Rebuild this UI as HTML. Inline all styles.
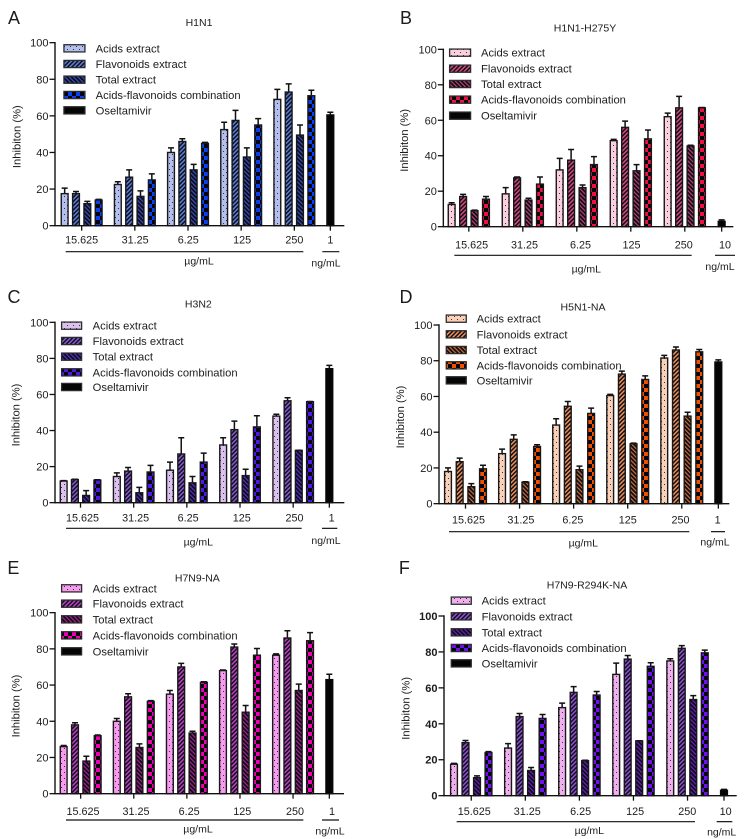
<!DOCTYPE html>
<html lang="en">
<head>
<meta charset="utf-8">
<title>Inhibition charts</title>
<style>
html,body{margin:0;padding:0;background:#fff;}
svg{display:block;filter:blur(0.35px);}
text{font-family:"Liberation Sans",Arial,sans-serif;fill:#1c1c1c;}
</style>
</head>
<body>
<svg id="figure" xmlns="http://www.w3.org/2000/svg" width="751" height="839" viewBox="0 0 751 839"><defs id="defs"></defs></svg>
<script>
const doseLabels = ["15.625","31.25","6.25","125","250"];
const seriesNames = ["Acids extract","Flavonoids extract","Total extract","Acids-flavonoids combination","Oseltamivir"];
const yTicks = [0,20,40,60,80,100];

const h1n1Acids = [17.5,22.5,40,52.5,69];
const h1n1AcidsErr = [3,1.5,2.5,4,5.5];
const h1n1Flav = [17.5,26.5,46,57.5,73];
const h1n1FlavErr = [1.2,4,1.5,5.5,4.5];
const h1n1Total = [12,16,30.5,37.5,49.5];
const h1n1TotalErr = [1.3,3,3,5,5.5];
const h1n1Combo = [14,25,45,55,71];
const h1n1ComboErr = [0.4,3.3,0.5,3.5,3];
const h1n1Ose = [60.5];
const h1n1OseErr = [1.5];

const h275yAcids = [12.5,18.5,32,48.5,62];
const h275yAcidsErr = [1,3.5,6.5,0.7,2];
const h275yFlav = [17,27.5,37.5,56,67];
const h275yFlavErr = [1.2,0.5,6,3.5,6.5];
const h275yTotal = [9,15,22,31.5,45.5];
const h275yTotalErr = [0.3,1,1.5,3.5,0.4];
const h275yCombo = [15.5,24,35,49.5,67];
const h275yComboErr = [1.5,4,4.5,5,0.2];
const h275yOse = [3];
const h275yOseErr = [0.8];

const h3n2Acids = [12,14.5,18,32,48];
const h3n2AcidsErr = [0.2,2,4.5,4,1];
const h3n2Flav = [12.8,17.5,27,40.5,56.5];
const h3n2FlavErr = [0.2,2,9,4.7,1.7];
const h3n2Total = [4,5.5,11,15,29];
const h3n2TotalErr = [2.7,3,3.5,3.5,0.1];
const h3n2Combo = [12.5,17,22.5,42,56];
const h3n2ComboErr = [0.2,3.7,5,6.2,0.1];
const h3n2Ose = [74.3];
const h3n2OseErr = [1.8];

const h5n1Acids = [18,28,44,60.5,81.5];
const h5n1AcidsErr = [2,2.5,3.5,0.7,1.5];
const h5n1Flav = [23.5,36,54.5,72.5,86];
const h5n1FlavErr = [2,2.5,2.7,1.7,1.7];
const h5n1Total = [9.5,12,19,33.5,49];
const h5n1TotalErr = [1.7,0.3,2,0.4,2.2];
const h5n1Combo = [19.5,32,50.5,69.5,85];
const h5n1ComboErr = [2,1,3,2,1.3];
const h5n1Ose = [79.3];
const h5n1OseErr = [1.2];

const h7n9Acids = [26,40,55,68,76.5];
const h7n9AcidsErr = [0.6,1.5,2,0.3,0.7];
const h7n9Flav = [38,53.5,70,81,86];
const h7n9FlavErr = [1.2,1.7,2,1.7,4];
const h7n9Total = [18,25.5,33.5,45,57];
const h7n9TotalErr = [2.7,2,1,3.7,3.5];
const h7n9Combo = [32,51,61.5,76.5,84.5];
const h7n9ComboErr = [0.4,0.4,0.3,3.7,4.5];
const h7n9Ose = [63];
const h7n9OseErr = [3];

const r294kAcids = [17.5,26.5,49,67.5,75];
const r294kAcidsErr = [0.5,2.5,2.5,6.3,1.2];
const r294kFlav = [29.5,44,57.5,76,82];
const r294kFlavErr = [1.2,1.7,3.2,2,1.5];
const r294kTotal = [10,14,19.5,30.5,53.5];
const r294kTotalErr = [1,1.7,0.2,0.1,2.2];
const r294kCombo = [24,43,56,72,79.5];
const r294kComboErr = [0.5,2.2,2,2,1.5];
const r294kOse = [3];
const r294kOseErr = [0.5];

const SVGNS = "http://www.w3.org/2000/svg";
const figure = document.getElementById("figure");
const defs = document.getElementById("defs");

function make(tag, parent, attrs, txt) {
  const el = document.createElementNS(SVGNS, tag);
  for (const k in attrs) el.setAttribute(k, attrs[k]);
  if (txt !== undefined) el.textContent = txt;
  parent.appendChild(el);
  return el;
}

function addPatterns(id, c) {
  defs.insertAdjacentHTML("beforeend",
    '<pattern id="dots-' + id + '" patternUnits="userSpaceOnUse" width="6" height="6">' +
      '<rect width="6" height="6" fill="' + c.light + '"/>' +
      '<rect x="1" y="1" width="1" height="1" fill="#333"/>' +
      '<rect x="4" y="4" width="1" height="1" fill="#333"/></pattern>' +
    '<pattern id="flav-' + id + '" patternUnits="userSpaceOnUse" width="3" height="3" patternTransform="rotate(45)">' +
      '<rect width="3" height="3" fill="#101020"/>' +
      '<rect width="1.5" height="3" fill="' + c.flav + '"/></pattern>' +
    '<pattern id="total-' + id + '" patternUnits="userSpaceOnUse" width="3" height="3" patternTransform="rotate(-45)">' +
      '<rect width="3" height="3" fill="#0c0c18"/>' +
      '<rect width="1.2" height="3" fill="' + c.total + '"/></pattern>' +
    '<pattern id="combo-' + id + '" patternUnits="userSpaceOnUse" width="8" height="8">' +
      '<rect width="8" height="8" fill="#050510"/>' +
      '<rect width="4" height="4" fill="' + c.combo + '"/>' +
      '<rect x="4" y="4" width="4" height="4" fill="' + c.combo + '"/></pattern>');
}

function drawPanel(p) {
  const px = v => p.ox + v / 3;
  const py = v => p.oy + v / 3;
  const yScale = v => py(p.y0) + (py(p.y100) - py(p.y0)) * v / 100;
  const barX = (g, s) => px(p.first + g * p.groupStep + s * p.barStep);
  const tickX = g => px(p.first + g * p.groupStep + 1.5 * p.barStep);
  const fills = ["url(#dots-" + p.id + ")", "url(#flav-" + p.id + ")", "url(#total-" + p.id + ")", "url(#combo-" + p.id + ")", "#050505"];
  const seriesKeys = ["acids", "flavonoids", "total", "combination"];

  addPatterns(p.id, p.colors);
  const g = make("g", figure, {});
  
  

  const letter = make("text", g, {x: px(p.letterX), y: py(p.letterY) + 6.5, "text-anchor": "middle", "font-size": 18}, p.letter);
  
  

  const title = make("text", g, {x: px(p.titleX), y: py(p.titleY) + 4, "text-anchor": "middle", "font-size": 10.5}, p.title);
  
  

  const yTitleX = px(p.yTitleX);
  const yTitleY = py(p.yTitleY);
  const yTitle = make("text", g, {x: yTitleX, y: yTitleY, "text-anchor": "middle", "font-size": 11.2, transform: "rotate(-90 " + yTitleX + " " + yTitleY + ") translate(0 4)"}, "Inhibiton (%)");
  
  

  /* bars */
  p.series.forEach((vals, s) => {
    vals.forEach((v, i) => {
      const cx = barX(i, s);
      const err = make("path", g, {d: "M" + cx + " " + yScale(v) + "V" + yScale(v + p.errors[s][i]) + "M" + (cx - 3) + " " + yScale(v + p.errors[s][i]) + "H" + (cx + 3), stroke: "#111", "stroke-width": 1.5, fill: "none"});
      
      
      const bar = make("rect", g, {x: cx - 3.4, y: yScale(v), width: 6.8, height: yScale(0) - yScale(v), fill: fills[s], stroke: "#181818", "stroke-width": 1.4});
      
      
    });
  });

  /* oseltamivir */
  const ox = px(p.oseX);
  const oseV = p.ose[0];
  const oseTop = yScale(oseV + p.oseErr[0]);
  const oseErr = make("path", g, {d: "M" + ox + " " + yScale(oseV) + "V" + oseTop + "M" + (ox - 3) + " " + oseTop + "H" + (ox + 3), stroke: "#111", "stroke-width": 1.5, fill: "none"});
  
  
  const oseBar = make("rect", g, {x: ox - 3.4, y: yScale(oseV), width: 6.8, height: yScale(0) - yScale(oseV), fill: fills[4], stroke: "#0a0a0a", "stroke-width": 1.4});
  
  

  /* axes */
  const yAxis = make("line", g, {x1: px(p.axisX), x2: px(p.axisX), y1: yScale(0) + 0.7, y2: yScale(100) - 0.7, stroke: "#111", "stroke-width": 1.4});
  
  
  const xAxis = make("line", g, {x1: px(p.axisX), x2: px(p.axisEnd), y1: yScale(0), y2: yScale(0), stroke: "#111", "stroke-width": 1.4});
  
  

  yTicks.forEach(t => {
    const tick = make("line", g, {x1: px(p.axisX) - 5.5, x2: px(p.axisX), y1: yScale(t), y2: yScale(t), stroke: "#111", "stroke-width": 1.3});
    
    
    const lab = make("text", g, {x: px(p.axisX) - 6.5, y: yScale(t) + 4, "text-anchor": "end", "font-size": 11, "font-weight": p.boldTicks ? "bold" : "normal"}, t);
    
    
  });

  doseLabels.forEach((d, i) => {
    const tick = make("line", g, {x1: tickX(i), x2: tickX(i), y1: yScale(0), y2: yScale(0) + 5, stroke: "#111", "stroke-width": 1.3});
    
    
    const lab = make("text", g, {x: tickX(i) + p.labelShift[i], y: py(p.labelY) + 4, "text-anchor": "middle", "font-size": 10.8}, d);
    
    
  });
  const oseTick = make("line", g, {x1: ox, x2: ox, y1: yScale(0), y2: yScale(0) + 5, stroke: "#111", "stroke-width": 1.3});
  
  
  const oseLab = make("text", g, {x: px(p.oseLabelX), y: py(p.labelY) + 4, "text-anchor": "middle", "font-size": 10.8}, p.oseDose);
  
  

  /* unit brackets */
  const ugLine = make("line", g, {x1: px(p.ugLine1), x2: px(p.ugLine2), y1: py(p.lineY), y2: py(p.lineY), stroke: "#111", "stroke-width": 1.2});
  
  
  const ngLine = make("line", g, {x1: px(p.ngLine1), x2: px(p.ngLine2), y1: py(p.lineY), y2: py(p.lineY), stroke: "#111", "stroke-width": 1.2});
  
  
  const ugText = make("text", g, {x: px(p.ugX), y: py(p.ugY) + 4, "text-anchor": "middle", "font-size": 10.5}, "µg/mL");
  
  
  const ngText = make("text", g, {x: px(p.ngX), y: py(p.ngY) + 4, "text-anchor": "middle", "font-size": 10.5}, "ng/mL");
  
  

  /* legend */
  seriesNames.forEach((name, s) => {
    const ry = py(p.legendRows[s]);
    const sw = make("rect", g, {x: px(p.legendX) + 0.6, y: ry - 3.6, width: p.legendW, height: 7.2, fill: fills[s], stroke: "#2c2c2c", "stroke-width": 1.3});
    
    
    const lt = make("text", g, {x: px(p.legendText), y: ry + 4, "font-size": 11.2}, name);
    
    
  });
}

function drawAll() {
  drawPanel({id:"a", letter:"A", title:"H1N1", ox:0, oy:0, y0:677, y100:128, axisX:165, axisEnd:1033,
    first:194, barStep:34, groupStep:159.5, oseX:991, labelShift:[0,0.3,0.3,1,0], oseLabelX:991, oseDose:"1",
    labelY:718, lineY:755, ugLine1:197, ugLine2:910, ngLine1:967, ngLine2:1018, ugX:597, ugY:782, ngX:978, ngY:787,
    titleX:597, titleY:66, letterX:42, letterY:53, yTitleX:50, yTitleY:410, boldTicks:false,
    legendX:190, legendW:21, legendRows:[145,192,239,285,331], legendText:287,
    colors:{light:"#b4bff0", flav:"#5a7fd8", total:"#3a50c0", combo:"#0b40f0"},
    series:[h1n1Acids,h1n1Flav,h1n1Total,h1n1Combo], errors:[h1n1AcidsErr,h1n1FlavErr,h1n1TotalErr,h1n1ComboErr], ose:h1n1Ose, oseErr:h1n1OseErr});
  drawPanel({id:"b", letter:"B", title:"H1N1-H275Y", ox:375, oy:0, y0:680, y100:148, axisX:205, axisEnd:1075,
    first:230, barStep:34.3, groupStep:162, oseX:1040, labelShift:[2.8,1.7,3.7,0.7,-1], oseLabelX:1050, oseDose:"10",
    labelY:733, lineY:766, ugLine1:238, ugLine2:950, ngLine1:1020, ngLine2:1080, ugX:634, ugY:805, ngX:1035, ngY:798,
    titleX:630, titleY:82, letterX:93, letterY:53, yTitleX:87, yTitleY:421, boldTicks:false,
    legendX:222, legendW:21, legendRows:[158,206,252,299,347], legendText:318,
    colors:{light:"#fbcfe0", flav:"#d84a78", total:"#c04070", combo:"#f0103f"},
    series:[h275yAcids,h275yFlav,h275yTotal,h275yCombo], errors:[h275yAcidsErr,h275yFlavErr,h275yTotalErr,h275yComboErr], ose:h275yOse, oseErr:h275yOseErr});
  drawPanel({id:"c", letter:"C", title:"H3N2", ox:0, oy:280, y0:668, y100:127, axisX:165, axisEnd:1033,
    first:191, barStep:33.7, groupStep:159.5, oseX:988, labelShift:[2,2,1.3,1.7,1.3], oseLabelX:995, oseDose:"1",
    labelY:713, lineY:745, ugLine1:198, ugLine2:905, ngLine1:966, ngLine2:1012, ugX:595, ugY:785, ngX:978, ngY:780,
    titleX:595, titleY:70, letterX:42, letterY:50, yTitleX:47, yTitleY:405, boldTicks:false,
    legendX:183, legendW:20, legendRows:[137,183,230,277,321], legendText:278,
    colors:{light:"#dcc0f0", flav:"#8a5ad0", total:"#5a30d0", combo:"#5018e8"},
    series:[h3n2Acids,h3n2Flav,h3n2Total,h3n2Combo], errors:[h3n2AcidsErr,h3n2FlavErr,h3n2TotalErr,h3n2ComboErr], ose:h3n2Ose, oseErr:h3n2OseErr});
  drawPanel({id:"d", letter:"D", title:"H5N1-NA", ox:375, oy:280, y0:671, y100:135, axisX:192, axisEnd:1063,
    first:219, barStep:35, groupStep:162.2, oseX:1030, labelShift:[3,1.3,-0.7,0,-1.3], oseLabelX:1028, oseDose:"1",
    labelY:718, lineY:755, ugLine1:222, ugLine2:943, ngLine1:1008, ngLine2:1050, ugX:625, ugY:787, ngX:1020, ngY:785,
    titleX:624, titleY:80, letterX:93, letterY:50, yTitleX:75, yTitleY:411, boldTicks:false,
    legendX:212, legendW:20, legendRows:[116,163,210,256,301], legendText:305,
    colors:{light:"#fbd0b8", flav:"#f09050", total:"#d07030", combo:"#f05000"},
    series:[h5n1Acids,h5n1Flav,h5n1Total,h5n1Combo], errors:[h5n1AcidsErr,h5n1FlavErr,h5n1TotalErr,h5n1ComboErr], ose:h5n1Ose, oseErr:h5n1OseErr});
  drawPanel({id:"e", letter:"E", title:"H7N9-NA", ox:0, oy:555, y0:716, y100:173, axisX:165, axisEnd:1032,
    first:191, barStep:34, groupStep:159.3, oseX:988, labelShift:[2.3,2.3,2.3,2.3,2], oseLabelX:996, oseDose:"1",
    labelY:768, lineY:795, ugLine1:198, ugLine2:910, ngLine1:966, ngLine2:1017, ugX:594, ugY:820, ngX:990, ngY:827,
    titleX:592, titleY:67, letterX:40, letterY:38, yTitleX:47, yTitleY:453, boldTicks:false,
    legendX:183, legendW:20, legendRows:[100,146,193,241,289], legendText:278,
    colors:{light:"#f79af0", flav:"#c040c0", total:"#b02090", combo:"#f000b0"},
    series:[h7n9Acids,h7n9Flav,h7n9Total,h7n9Combo], errors:[h7n9AcidsErr,h7n9FlavErr,h7n9TotalErr,h7n9ComboErr], ose:h7n9Ose, oseErr:h7n9OseErr});
  drawPanel({id:"f", letter:"F", title:"H7N9-R294K-NA", ox:375, oy:555, y0:722, y100:183, axisX:207, axisEnd:1085,
    first:237, barStep:34.5, groupStep:162.2, oseX:1047, labelShift:[3,2,1.3,1.7,-0.3], oseLabelX:1052, oseDose:"10",
    labelY:768, lineY:800, ugLine1:245, ugLine2:960, ngLine1:1025, ngLine2:1072, ugX:643, ugY:825, ngX:1040, ngY:830,
    titleX:636, titleY:88, letterX:88, letterY:38, yTitleX:92, yTitleY:460, boldTicks:true,
    legendX:227, legendW:20, legendRows:[137,184,232,279,325], legendText:320,
    colors:{light:"#f0b0f0", flav:"#9050d0", total:"#7020c0", combo:"#7010f0"},
    series:[r294kAcids,r294kFlav,r294kTotal,r294kCombo], errors:[r294kAcidsErr,r294kFlavErr,r294kTotalErr,r294kComboErr], ose:r294kOse, oseErr:r294kOseErr});
}
drawAll();
</script>
</body>
</html>
